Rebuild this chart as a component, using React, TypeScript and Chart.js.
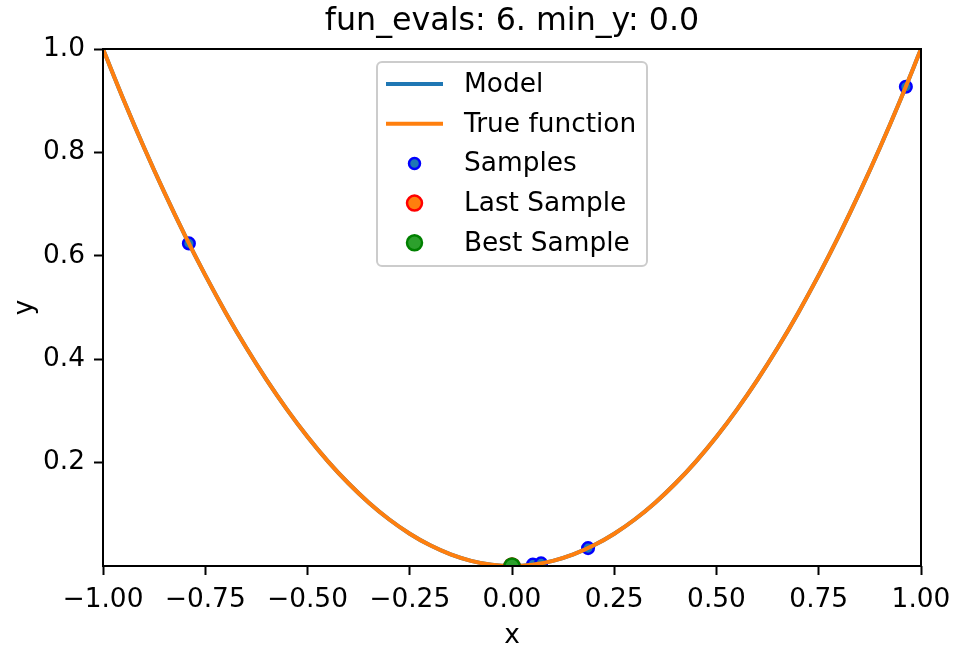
import React, { useEffect, useRef } from "react";
import { Chart, registerables } from "chart.js";

Chart.register(...registerables);

const titleText = "fun_evals: 6. min_y: 0.0";
const xLabel = "x";
const yLabel = "y";

const curveX = [
  -1.0, -0.95, -0.9, -0.85, -0.8, -0.75, -0.7, -0.65, -0.6, -0.55, -0.5, -0.45, -0.4, -0.35, -0.3, -0.25, -0.2,
  -0.15, -0.1, -0.05, 0.0, 0.05, 0.1, 0.15, 0.2, 0.25, 0.3, 0.35, 0.4, 0.45, 0.5, 0.55, 0.6, 0.65, 0.7, 0.75, 0.8,
  0.85, 0.9, 0.95, 1.0,
];
const trueY = [
  1.0, 0.9025, 0.81, 0.7225, 0.64, 0.5625, 0.49, 0.4225, 0.36, 0.3025, 0.25, 0.2025, 0.16, 0.1225, 0.09, 0.0625,
  0.04, 0.0225, 0.01, 0.0025, 0.0, 0.0025, 0.01, 0.0225, 0.04, 0.0625, 0.09, 0.1225, 0.16, 0.2025, 0.25, 0.3025,
  0.36, 0.4225, 0.49, 0.5625, 0.64, 0.7225, 0.81, 0.9025, 1.0,
];
const modelY = [
  1.0, 0.9025, 0.81, 0.7225, 0.64, 0.5625, 0.49, 0.4225, 0.36, 0.3025, 0.25, 0.2025, 0.16, 0.1225, 0.09, 0.0625,
  0.04, 0.0225, 0.01, 0.0025, 0.0, 0.0025, 0.01, 0.0225, 0.04, 0.0625, 0.09, 0.1225, 0.16, 0.2025, 0.25, 0.3025,
  0.36, 0.4225, 0.49, 0.5625, 0.64, 0.7225, 0.81, 0.9025, 1.0,
];
const sampleX = [-0.79, 0.963, 0.051, 0.071, 0.186, 0.0];
const sampleY = [0.624, 0.927, 0.0026, 0.005, 0.0346, 0.0];
const lastX = [0.0];
const lastY = [0.0];
const bestX = [0.0];
const bestY = [0.0];
const xTicks = [-1.0, -0.75, -0.5, -0.25, 0.0, 0.25, 0.5, 0.75, 1.0];
const yTicks = [0.2, 0.4, 0.6, 0.8, 1.0];

const FONT = "'DejaVu Sans', sans-serif";
const FS = 26.4;

const toPts = (xs: number[], ys: number[]) => xs.map((x, i) => ({ x, y: ys[i] }));

type LegendItem = { label: string; kind: "line" | "point"; fill: string; edge: string; r: number };
const legendItems: LegendItem[] = [
  { label: "Model", kind: "line", fill: "#1f77b4", edge: "#1f77b4", r: 0 },
  { label: "True function", kind: "line", fill: "#ff7f0e", edge: "#ff7f0e", r: 0 },
  { label: "Samples", kind: "point", fill: "#1f77b4", edge: "#0000ff", r: 5.5 },
  { label: "Last Sample", kind: "point", fill: "#ff7f0e", edge: "#ff0000", r: 7.5 },
  { label: "Best Sample", kind: "point", fill: "#2ca02c", edge: "#008000", r: 7.5 },
];

const decorPlugin = {
  id: "decor",
  afterDraw(chart: any) {
    const { ctx, chartArea } = chart;
    const { left, right, top, bottom } = chartArea;
    ctx.save();
    // spines
    ctx.strokeStyle = "#000";
    ctx.lineWidth = 2;
    ctx.strokeRect(left, top, right - left, bottom - top);
    // title
    ctx.fillStyle = "#000";
    ctx.font = `31.7px ${FONT}`;
    ctx.textAlign = "center";
    ctx.textBaseline = "alphabetic";
    ctx.fillText(titleText, (left + right) / 2, 30);
    // axis labels
    ctx.font = `${FS}px ${FONT}`;
    ctx.fillText(xLabel, (left + right) / 2, 643);
    ctx.save();
    ctx.translate(32, (top + bottom) / 2);
    ctx.rotate(-Math.PI / 2);
    ctx.fillText(yLabel, 0, 0);
    ctx.restore();
    // legend
    const bx = 377, by = 62, bw = 270, bh = 204;
    ctx.beginPath();
    if (ctx.roundRect) ctx.roundRect(bx, by, bw, bh, 5);
    else ctx.rect(bx, by, bw, bh);
    ctx.fillStyle = "rgba(255,255,255,0.8)";
    ctx.fill();
    ctx.strokeStyle = "#cccccc";
    ctx.lineWidth = 2;
    ctx.stroke();
    ctx.font = `${FS}px ${FONT}`;
    ctx.textAlign = "left";
    ctx.textBaseline = "middle";
    legendItems.forEach((it, i) => {
      const cy = 84 + i * 39.7;
      if (it.kind === "line") {
        ctx.strokeStyle = it.fill;
        ctx.lineWidth = 4;
        ctx.beginPath();
        ctx.moveTo(386, cy);
        ctx.lineTo(443, cy);
        ctx.stroke();
      } else {
        ctx.beginPath();
        ctx.arc(414.5, cy, it.r, 0, Math.PI * 2);
        ctx.fillStyle = it.fill;
        ctx.fill();
        ctx.strokeStyle = it.edge;
        ctx.lineWidth = 2.5;
        ctx.stroke();
      }
      ctx.fillStyle = "#000";
      ctx.fillText(it.label, 464, cy + 1);
    });
    ctx.restore();
  },
};

export default function App() {
  const ref = useRef<HTMLCanvasElement | null>(null);
  useEffect(() => {
    if (!ref.current) return;
    const tickFont = { family: FONT, size: FS };
    const chart = new Chart(ref.current, {
      type: "scatter",
      data: {
        datasets: [
          {
            label: "Samples",
            data: toPts(sampleX, sampleY),
            backgroundColor: "#1f77b4",
            borderColor: "#0000ff",
            borderWidth: 2.5,
            pointRadius: 5.8,
            order: 5,
          },
          {
            label: "Model",
            data: toPts(curveX, modelY),
            showLine: true,
            borderColor: "#1f77b4",
            borderWidth: 4,
            pointRadius: 0,
            cubicInterpolationMode: "monotone",
            order: 4,
          },
          {
            label: "True function",
            data: toPts(curveX, trueY),
            showLine: true,
            borderColor: "#ff7f0e",
            borderWidth: 4,
            pointRadius: 0,
            cubicInterpolationMode: "monotone",
            order: 3,
          },
          {
            label: "Last Sample",
            data: toPts(lastX, lastY),
            backgroundColor: "#ff7f0e",
            borderColor: "#ff0000",
            borderWidth: 2.5,
            pointRadius: 7.5,
            order: 2,
          },
          {
            label: "Best Sample",
            data: toPts(bestX, bestY),
            backgroundColor: "#2ca02c",
            borderColor: "#008000",
            borderWidth: 2.5,
            pointRadius: 7.5,
            order: 1,
          },
        ],
      },
      options: {
        animation: false,
        responsive: false,
        events: [],
        layout: { padding: { top: 49, right: 36, left: 0, bottom: 0 } },
        plugins: { legend: { display: false }, tooltip: { enabled: false }, title: { display: false } },
        scales: {
          x: {
            type: "linear",
            min: -1,
            max: 1,
            afterFit: (s: any) => {
              s.height = 83;
              s.paddingLeft = 0;
              s.paddingRight = 0;
            },
            afterBuildTicks: (s: any) => {
              s.ticks = xTicks.map((v) => ({ value: v }));
            },
            ticks: {
              font: tickFont,
              color: "#000",
              padding: 9,
              maxRotation: 0,
              autoSkip: false,
              callback: (v: any) => Number(v).toFixed(2).replace("-", "\u2212"),
            },
            grid: { display: true, drawOnChartArea: false, drawTicks: true, tickLength: 9, tickColor: "#000", tickWidth: 2 },
            border: { display: false },
          },
          y: {
            type: "linear",
            min: 0,
            max: 1,
            afterFit: (s: any) => {
              s.width = 103;
              s.paddingTop = 0;
              s.paddingBottom = 0;
            },
            afterBuildTicks: (s: any) => {
              s.ticks = yTicks.map((v) => ({ value: v }));
            },
            ticks: {
              font: tickFont,
              color: "#000",
              padding: 9,
              autoSkip: false,
              callback: (v: any) => Number(v).toFixed(1),
            },
            grid: { display: true, drawOnChartArea: false, drawTicks: true, tickLength: 9, tickColor: "#000", tickWidth: 2 },
            border: { display: false },
          },
        },
      },
      plugins: [decorPlugin],
    } as any);
    return () => chart.destroy();
  }, []);
  return (
    <div style={{ position: "absolute", left: 0, top: 0, width: 957, height: 649, background: "#fff" }}>
      <canvas ref={ref} width={957} height={649} style={{ display: "block" }} />
    </div>
  );
}
